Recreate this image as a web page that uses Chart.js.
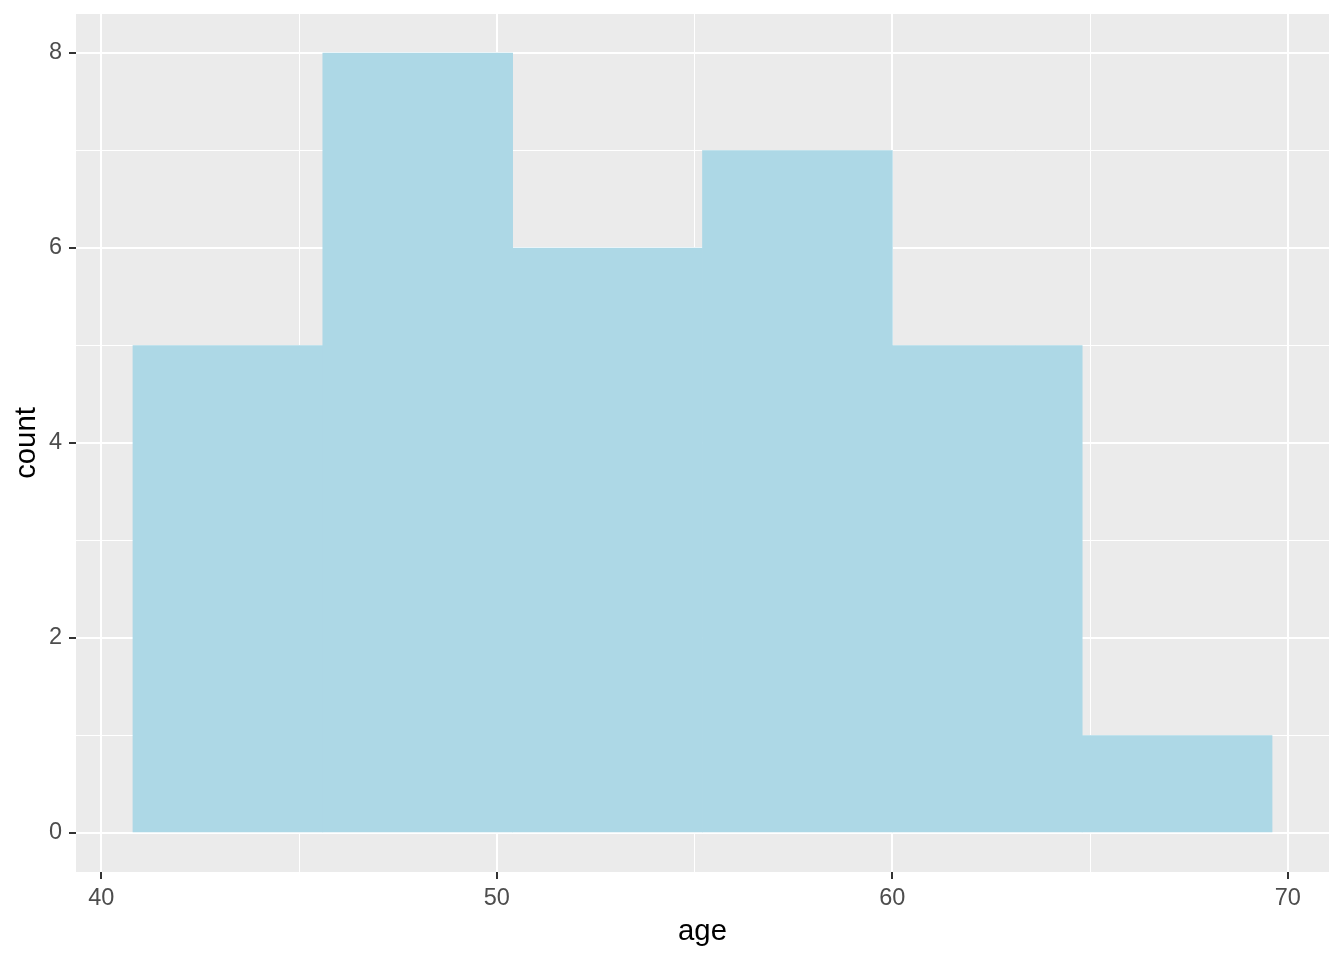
<!DOCTYPE html>
<html>
<head>
<meta charset="utf-8">
<script src="https://cdn.jsdelivr.net/npm/chart.js@4"></script>
<style>
  html, body { margin: 0; padding: 0; background: #fff; }
  #wrap { position: relative; width: 1344px; height: 960px; }
</style>
</head>
<body>
<div id="wrap"><canvas id="hist"></canvas></div>
<script>
// Histogram of age (ggplot-style), bins of width 4.8
const BIN_CENTERS = [43.2, 48.0, 52.8, 57.6, 62.4, 67.2];
const COUNTS = [5, 8, 6, 7, 5, 1];

const X_MAJOR = [40, 50, 60, 70];
const X_MINOR = [45, 55, 65];
const Y_MAJOR = [0, 2, 4, 6, 8];
const Y_MINOR = [1, 3, 5, 7];

const X_RANGE = [39.36, 71.04];
const Y_RANGE = [-0.4, 8.4];

const FONT = "'Liberation Sans', Arial, Helvetica, sans-serif";

// panel background (grey92) behind grid lines
const panelBg = {
    id: 'panelBg',
    beforeDraw(chart) {
        const a = chart.chartArea;
        const ctx = chart.ctx;
        ctx.save();
        ctx.fillStyle = '#EBEBEB';
        ctx.fillRect(a.left, a.top, a.right - a.left, a.bottom - a.top);
        ctx.restore();
    }
};

function allTicks(major, minor) {
    return major.concat(minor).sort((a, b) => a - b).map(v => ({ value: v }));
}

const isMajor = (list, v) => list.includes(v);

new Chart(document.getElementById('hist').getContext('2d'), {
    type: 'bar',
    data: {
        datasets: [{
            data: BIN_CENTERS.map((x, i) => ({ x: x, y: COUNTS[i] })),
            backgroundColor: '#ADD8E6',
            borderWidth: 0,
            barPercentage: 1,
            categoryPercentage: 1
        }]
    },
    options: {
        responsive: true,
        maintainAspectRatio: false,
        animation: false,
        layout: { padding: { top: 14, right: 15, left: 0, bottom: 0 } },
        plugins: { legend: { display: false }, tooltip: { enabled: false } },
        scales: {
            x: {
                type: 'linear',
                offset: false,
                min: X_RANGE[0],
                max: X_RANGE[1],
                afterBuildTicks: s => { s.ticks = allTicks(X_MAJOR, X_MINOR); },
                afterFit: s => { s.height = 88; s.paddingLeft = 0; s.paddingRight = 0; },
                border: { display: false },
                grid: {
                    offset: false,
                    color: '#FFFFFF',
                    lineWidth: c => isMajor(X_MAJOR, c.tick.value) ? 2 : 1,
                    tickLength: 7,
                    tickWidth: 2,
                    tickColor: c => isMajor(X_MAJOR, c.tick.value) ? '#333333' : 'rgba(0,0,0,0)'
                },
                ticks: {
                    autoSkip: false,
                    maxRotation: 0,
                    padding: 5,
                    color: '#4D4D4D',
                    font: { family: FONT, size: 23.5 },
                    callback: v => isMajor(X_MAJOR, v) ? String(v) : ''
                },
                title: {
                    display: true,
                    text: 'age',
                    color: '#000000',
                    font: { family: FONT, size: 29.3 },
                    padding: { top: 0, bottom: 11 }
                }
            },
            y: {
                type: 'linear',
                min: Y_RANGE[0],
                max: Y_RANGE[1],
                afterBuildTicks: s => { s.ticks = allTicks(Y_MAJOR, Y_MINOR); },
                afterFit: s => { s.width = 76; s.paddingTop = 0; s.paddingBottom = 0; },
                border: { display: false },
                grid: {
                    color: '#FFFFFF',
                    lineWidth: c => isMajor(Y_MAJOR, c.tick.value) ? 2 : 1,
                    tickLength: 7,
                    tickWidth: 2,
                    tickColor: c => isMajor(Y_MAJOR, c.tick.value) ? '#333333' : 'rgba(0,0,0,0)'
                },
                ticks: {
                    autoSkip: false,
                    padding: 7,
                    color: '#4D4D4D',
                    font: { family: FONT, size: 23.5 },
                    callback: v => isMajor(Y_MAJOR, v) ? String(v) : ''
                },
                title: {
                    display: true,
                    text: 'count',
                    color: '#000000',
                    font: { family: FONT, size: 29.3 },
                    padding: { top: 9, bottom: 0 }
                }
            }
        }
    },
    plugins: [panelBg]
});
</script>
</body>
</html>
